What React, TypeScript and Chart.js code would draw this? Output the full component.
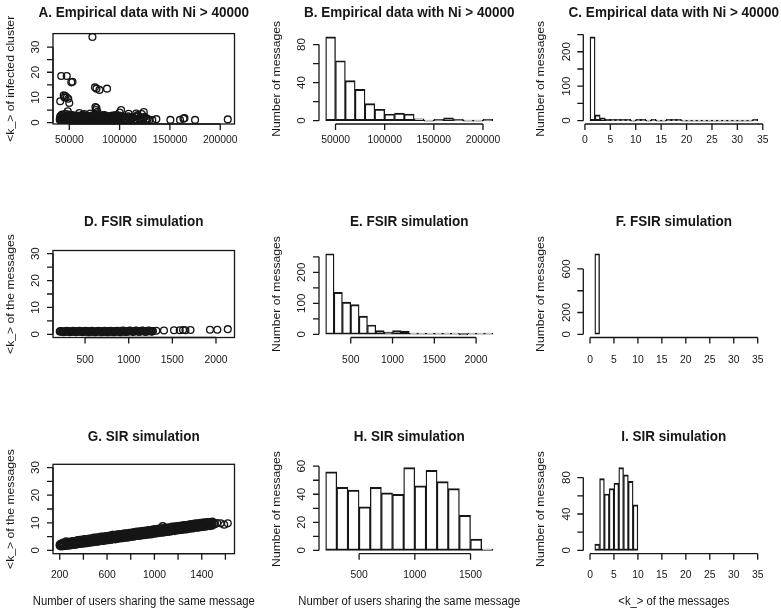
import React, { useEffect, useRef } from "react";
import { Chart, registerables } from "chart.js";

Chart.register(...registerables);

const W = 781;
const H = 610;
const FONT = '"Liberation Sans", Arial, Helvetica, sans-serif';
const INK = "#161616";

// ---------------- Panel A: empirical scatter ----------------
const aPoints: [number, number][] = [
  [40500, 1.2], [41200, 2.6], [42000, 1.0], [42800, 3.2], [43500, 1.8], [44100, 0.9], [44900, 2.4], [45600, 1.4],
  [46300, 3.5], [47000, 1.1], [47800, 2.0], [48500, 0.9], [49200, 2.8], [50000, 1.5], [50700, 1.0], [51500, 2.3],
  [52300, 1.2], [53000, 3.0], [53800, 1.7], [54600, 1.0], [55400, 2.5], [56200, 1.3], [57000, 2.0], [57900, 0.9],
  [58700, 2.7], [59500, 1.4], [60300, 1.0], [61200, 2.2], [62000, 1.2], [62900, 3.1], [63700, 1.6], [64600, 1.0],
  [65400, 2.4], [66300, 1.3], [67100, 1.9], [68000, 0.9], [68900, 2.6], [69700, 1.5], [70600, 1.0], [71500, 2.1],
  [72300, 1.3], [73200, 2.9], [74100, 1.1], [75000, 2.0], [75800, 1.0], [76700, 3.2], [77600, 1.4], [78500, 2.4],
  [79400, 1.0], [80200, 1.8], [81100, 1.2], [82000, 2.7], [82900, 1.0], [83800, 2.0], [84700, 1.3], [85600, 2.6],
  [86500, 1.0], [87400, 1.7], [88300, 1.2], [89200, 2.3], [90100, 1.0], [91000, 1.6], [92000, 2.1], [93000, 1.1],
  [94000, 1.5], [95000, 2.6], [96000, 1.0], [97000, 1.8], [98000, 1.2], [99000, 2.2], [100000, 1.0], [101500, 1.6],
  [103000, 2.4], [104000, 1.1], [105500, 1.8], [107000, 1.0], [108500, 2.5], [110000, 1.3], [111500, 0.9],
  [113000, 1.9], [114500, 1.2], [116000, 2.4], [117500, 1.0], [119000, 1.6], [120500, 2.0], [122000, 1.1],
  [123500, 1.5], [125000, 2.3], [126500, 1.0], [128000, 1.4], [129500, 1.0],
  [40900, 2.0], [41700, 0.8], [42400, 1.6], [43100, 2.2], [43900, 1.1], [44600, 3.0], [45300, 0.8], [46000, 2.0],
  [46700, 1.3], [47400, 2.8], [48200, 1.5], [48900, 0.8], [49600, 2.0], [50400, 3.2], [51100, 1.3], [51900, 0.8],
  [52700, 2.0], [53400, 1.0], [54200, 2.6], [55000, 1.2], [55800, 0.8], [56600, 2.8], [57400, 1.5], [58300, 1.9],
  [59100, 0.8], [59900, 2.4], [60700, 1.6], [61600, 0.8], [62400, 2.0], [63300, 1.0], [64100, 2.6], [65000, 1.8],
  [65800, 0.8], [66700, 2.8], [67500, 1.4], [68400, 2.0], [69300, 0.8], [70200, 2.4], [71000, 1.6], [71900, 0.8],
  [72800, 2.0], [73700, 1.6], [74600, 2.6], [75400, 1.5], [76300, 0.8], [77200, 2.1], [78100, 1.0], [79000, 3.0],
  [79800, 1.4], [80700, 2.2], [81600, 0.8], [82500, 1.6], [83400, 2.9], [84300, 0.8], [85200, 1.8], [86100, 2.2],
  [87000, 0.8], [87900, 2.6], [88800, 1.6], [89700, 2.0], [90600, 0.8], [91500, 2.6], [92500, 1.4], [93500, 2.0],
  [94500, 0.8], [95500, 1.7], [96500, 2.4], [97500, 0.8], [98500, 1.6], [99500, 2.8], [102000, 2.0], [103500, 0.9],
  [106000, 1.4], [109000, 1.9], [112000, 2.2], [115000, 1.0], [118500, 2.6], [121000, 1.3], [124000, 1.9], [127000, 1.6],
  [73000, 34], [42000, 18.5], [47500, 18.5], [52000, 16], [53200, 16.2], [44500, 10.8], [46000, 10.5],
  [45200, 10], [47500, 10], [49000, 9.5], [41000, 8.5], [50000, 7.8], [75500, 14], [77000, 13.5], [80000, 13],
  [87500, 13.5], [76000, 6.2], [77000, 5.8], [76500, 5], [78000, 4.3], [48500, 4.5], [101500, 5], [100000, 4],
  [109000, 3.5], [116500, 3.6], [118000, 3], [124000, 4.2], [122000, 3.4], [60000, 3.8], [65000, 3.4],
  [93000, 2.8], [96000, 3], [85000, 3], [71000, 3.6],
  [132500, 1], [136500, 1.4], [150500, 1.1], [160000, 1.1], [163500, 1.6], [164500, 1.8], [175000, 1.1], [207500, 1.3],
];
const aXTicks = [50000, 100000, 150000, 200000];
const kYTicks = [0, 5, 10, 15, 20, 25, 30];
const kYLabels = [0, 10, 20, 30];

// ---------------- Panel B: empirical size histogram ----------------
const bBreaks = [40000, 50000, 60000, 70000, 80000, 90000, 100000, 110000, 120000, 130000, 140000, 150000, 160000, 170000, 180000, 190000, 200000, 210000];
const bCounts = [88, 63, 42, 33, 18, 12, 7, 8, 7, 2, 0, 1, 3, 1, 0, 0, 1];
const bYTicks = [0, 20, 40, 60, 80];
const bYLabels = [0, 40, 80];

// ---------------- Panel C: empirical <k> histogram ----------------
const cBreaks = [1, 2, 3, 4, 5, 6, 7, 8, 9, 10, 11, 12, 13, 14, 15, 16, 17, 18, 19, 20, 21, 22, 23, 24, 25, 26, 27, 28, 29, 30, 31, 32, 33, 34];
const cCounts = [243, 17, 8, 4, 3, 1, 1, 1, 0, 1, 1, 0, 1, 0, 0, 1, 1, 1, 0, 0, 0, 0, 0, 0, 0, 0, 0, 0, 0, 0, 0, 0, 1];
const kXTicks = [0, 5, 10, 15, 20, 25, 30, 35];
const cYTicks = [0, 50, 100, 150, 200, 250];
const cYLabels = [0, 100, 200];

// ---------------- Panel D: FSIR scatter ----------------
const dPoints: [number, number][] = [
  [210, 1.0], [228, 1.1], [246, 0.9], [264, 1.0], [282, 1.2], [300, 1.0], [318, 0.9], [336, 1.1], [354, 1.0],
  [372, 1.2], [390, 0.9], [408, 1.0], [426, 1.1], [444, 1.0], [462, 1.2], [480, 0.9], [498, 1.0], [516, 1.1],
  [534, 1.0], [552, 0.9], [570, 1.2], [588, 1.0], [606, 1.1], [624, 0.9], [642, 1.0], [660, 1.2], [678, 1.0],
  [696, 1.1], [714, 0.9], [732, 1.0], [750, 1.2], [768, 1.0], [786, 1.1], [804, 1.0], [822, 0.9], [840, 1.2],
  [858, 1.0], [876, 1.1], [894, 1.0], [912, 1.3], [930, 1.0], [948, 1.1], [966, 0.9], [984, 1.2], [1002, 1.0],
  [1020, 1.3], [1038, 1.1], [1056, 1.0], [1074, 1.2], [1092, 1.3], [1110, 1.0], [1128, 1.2], [1146, 1.1],
  [1164, 1.3], [1182, 1.0], [1200, 1.2], [1218, 1.1], [1236, 1.3], [1254, 1.2], [1272, 1.1],
  [219, 1.2], [255, 0.8], [291, 1.3], [327, 0.8], [363, 1.3], [399, 0.8], [435, 1.3], [471, 0.8], [507, 1.3],
  [543, 0.8], [579, 1.3], [615, 0.8], [651, 1.3], [687, 0.8], [723, 1.3], [759, 0.8], [795, 1.3], [831, 0.8],
  [867, 1.3], [903, 0.8], [939, 1.4], [975, 0.9], [1011, 1.4], [1047, 0.9], [1083, 1.4], [1119, 0.9], [1155, 1.4],
  [1191, 0.9], [1227, 1.4], [1263, 1.0],
  [237, 1.05], [273, 0.95], [309, 1.1], [345, 0.95], [381, 1.05], [417, 1.15], [453, 0.95], [489, 1.1], [525, 1.0],
  [561, 1.1], [597, 0.95], [633, 1.05], [669, 1.1], [705, 1.0], [741, 1.05], [777, 1.15], [813, 0.95], [849, 1.05],
  [885, 1.1], [921, 1.15], [957, 1.0], [993, 1.1], [1029, 1.2], [1065, 1.05], [1101, 1.15], [1137, 1.1],
  [1173, 1.2], [1209, 1.05], [1245, 1.15],
  [1277, 1.2], [1316, 1.3], [1404, 1.4], [1519, 1.5], [1585, 1.5], [1623, 1.6], [1650, 1.5], [1708, 1.6],
  [1931, 1.7], [2015, 1.7], [2135, 1.9],
];
const sizeXTicks = [500, 1000, 1500, 2000];

// ---------------- Panel E: FSIR size histogram ----------------
const eBreaks = [200, 300, 400, 500, 600, 700, 800, 900, 1000, 1100, 1200, 1300, 1400, 1500, 1600, 1700, 1800, 1900, 2000, 2100, 2200];
const eCounts = [260, 135, 104, 96, 59, 30, 12, 7, 12, 10, 4, 1, 1, 1, 3, 2, 0, 1, 1, 1];
const eYTicks = [0, 50, 100, 150, 200, 250];
const eYLabels = [0, 100, 200];

// ---------------- Panel F: FSIR <k> histogram ----------------
const fBreaks = [1, 2];
const fCounts = [740];
const fYTicks = [0, 200, 400, 600];
const fYLabels = [0, 200, 600];

// ---------------- Panel G: SIR scatter ----------------
const gPoints: [number, number][] = [
  [200, 1.7], [200, 2.1], [215, 2.2], [215, 1.8], [230, 1.6], [230, 2.3], [250, 2.0], [250, 2.5], [255, 3.3],
  [270, 2.0], [270, 2.6], [290, 2.5], [290, 2.1], [310, 2.3], [310, 2.9], [330, 2.7], [330, 2.2], [350, 2.4],
  [350, 3.0], [370, 3.1], [370, 2.6], [390, 2.7], [390, 3.4], [410, 3.3], [410, 2.9], [430, 2.8], [430, 3.6],
  [450, 3.4], [450, 3.0], [470, 3.8], [470, 3.2], [490, 3.3], [490, 4.0], [510, 3.9], [510, 3.5], [530, 4.2],
  [530, 3.6], [550, 3.7], [550, 4.4], [570, 4.3], [570, 3.9], [590, 4.0], [590, 4.7], [610, 4.6], [610, 4.1],
  [630, 4.9], [630, 4.2], [645, 5.6], [650, 4.4], [650, 5.0], [670, 5.1], [670, 4.6], [690, 4.7], [690, 5.4],
  [710, 5.3], [710, 4.8], [730, 4.9], [730, 5.6], [750, 5.5], [750, 5.1], [770, 5.2], [770, 5.8], [790, 5.8],
  [790, 5.3], [810, 5.4], [810, 6.0], [830, 6.1], [830, 5.5], [850, 5.7], [850, 6.3], [870, 6.2], [870, 5.8],
  [890, 5.9], [890, 6.6], [910, 6.5], [910, 6.0], [930, 6.1], [930, 6.8], [950, 6.7], [950, 6.2], [970, 6.3],
  [970, 7.0], [990, 6.9], [990, 6.4], [1010, 6.6], [1010, 7.2], [1030, 7.1], [1030, 6.7], [1050, 6.8], [1050, 7.5],
  [1070, 7.3], [1070, 8.8], [1090, 7.0], [1090, 7.7], [1110, 7.6], [1110, 7.1], [1130, 7.3], [1130, 8.0],
  [1150, 7.9], [1150, 7.4], [1170, 7.5], [1170, 8.2], [1190, 8.1], [1190, 7.7], [1210, 7.8], [1210, 8.5],
  [1230, 8.4], [1230, 7.9], [1250, 8.0], [1250, 8.7], [1270, 8.6], [1270, 8.2], [1290, 8.3], [1290, 9.0],
  [1310, 8.8], [1310, 8.4], [1330, 8.5], [1330, 9.3], [1350, 9.0], [1350, 8.6], [1370, 8.7], [1370, 9.5],
  [1390, 9.2], [1390, 8.8], [1410, 8.9], [1410, 9.7], [1430, 9.4], [1430, 9.0], [1450, 9.1], [1450, 9.8],
  [1470, 9.6], [1470, 9.3], [1490, 9.4], [1490, 10.0], [1510, 9.7], [1510, 9.5], [1530, 9.9], [1560, 9.8],
  [1590, 9.3], [1620, 9.8],
  [210, 2.5], [230, 2.8], [250, 2.9], [270, 3.0], [290, 3.2], [310, 3.4], [330, 3.4], [350, 3.7], [370, 3.8],
  [390, 3.9], [410, 4.1], [430, 4.1], [450, 4.3], [470, 4.4], [490, 4.6], [510, 4.6], [530, 4.8], [550, 5.0],
  [570, 5.0], [590, 5.2], [610, 5.3], [630, 5.4], [650, 5.6], [670, 5.6], [690, 5.8], [710, 5.9], [730, 6.0],
  [750, 6.2], [770, 6.2], [790, 6.4], [810, 6.5], [830, 6.6], [850, 6.8], [870, 6.8], [890, 7.0], [910, 7.1],
  [930, 7.2], [950, 7.4], [970, 7.4], [990, 7.6], [1010, 7.7], [1030, 7.8], [1050, 8.0], [1070, 8.0], [1090, 8.2],
  [1110, 8.3], [1130, 8.4], [1150, 8.6], [1170, 8.6], [1190, 8.8], [1210, 8.9], [1230, 9.0], [1250, 9.2],
  [1270, 9.2], [1290, 9.4], [1310, 9.5], [1330, 9.6], [1350, 9.8], [1370, 9.8], [1390, 10.0], [1410, 10.1],
  [1430, 10.2], [1450, 10.3], [1470, 10.3], [1490, 10.4],
  [210, 1.4], [230, 1.5], [250, 1.6], [270, 1.7], [290, 1.8], [310, 2.0], [330, 2.0], [350, 2.2], [370, 2.3],
  [390, 2.4], [410, 2.5], [430, 2.6], [450, 2.8], [470, 2.9], [490, 3.0], [510, 3.1], [530, 3.2], [550, 3.4],
  [570, 3.4], [590, 3.6], [610, 3.7], [630, 3.8], [650, 4.0], [670, 4.0], [690, 4.2], [710, 4.3], [730, 4.4],
  [750, 4.6], [770, 4.6], [790, 4.8], [810, 4.9], [830, 5.0], [850, 5.2], [870, 5.2], [890, 5.4], [910, 5.5],
  [930, 5.6], [950, 5.8], [970, 5.8], [990, 6.0], [1010, 6.1], [1030, 6.2], [1050, 6.4], [1070, 6.4], [1090, 6.6],
  [1110, 6.7], [1130, 6.8], [1150, 7.0], [1170, 7.0], [1190, 7.2], [1210, 7.3], [1230, 7.4], [1250, 7.6],
  [1270, 7.6], [1290, 7.8], [1310, 7.9], [1330, 8.0], [1350, 8.2], [1370, 8.2], [1390, 8.4], [1410, 8.5],
  [1430, 8.6], [1450, 8.8], [1470, 8.8], [1490, 9.0],
];
const gXTicks = [200, 400, 600, 800, 1000, 1200, 1400, 1600];
const gXLabels = [200, 600, 1000, 1400];

// ---------------- Panel H: SIR size histogram ----------------
const hBreaks = [200, 300, 400, 500, 600, 700, 800, 900, 1000, 1100, 1200, 1300, 1400, 1500, 1600, 1700];
const hCounts = [56, 45, 43, 31, 45, 41, 40, 59, 46, 57, 49, 44, 25, 8, 1];
const hXTicks = [500, 1000, 1500];
const hYTicks = [0, 10, 20, 30, 40, 50, 60];
const hYLabels = [0, 20, 40, 60];

// ---------------- Panel I: SIR <k> histogram ----------------
const iBreaks = [1, 2, 3, 4, 5, 6, 7, 8, 9, 10];
const iCounts = [7, 79, 62, 68, 74, 91, 83, 76, 50];
const iYTicks = [0, 20, 40, 60, 80];
const iYLabels = [0, 40, 80];

const kRange: [number, number] = [0, 35];
const kYRange: [number, number] = [0, 30];

// ---------------- layout (R plot regions) ----------------
const COLS: [number, number][] = [[53, 234.5], [319, 499.5], [583.3, 764.4]];
const ROWS = [
  { top: 33.6, bottom: 124, titleY: 12.7, tickY: 139.5, xTitleY: 0 },
  { top: 250.5, bottom: 337.5, titleY: 221.7, tickY: 360, xTitleY: 0 },
  { top: 464.3, bottom: 553.7, titleY: 436.7, tickY: 575, xTitleY: 601.7 },
];

type Panel = {
  title: string;
  yTitle: string;
  xTitle?: string;
  col: number;
  row: number;
  points?: [number, number][];
  breaks?: number[];
  counts?: number[];
  xlim?: [number, number];
  ylim?: [number, number];
  xTicks: number[];
  xLabels: number[];
  yTicks: number[];
  yLabels: number[];
  box: boolean;
};

const EMP = "Empirical data with Ni > 40000";
const NUM = "Number of messages";
const KMSG = "<k_> of the messages";
const USERS = "Number of users sharing the same message";

const PANELS: Panel[] = [
  { title: "A. " + EMP, yTitle: "<k_> of infected cluster", col: 0, row: 0, points: aPoints, xTicks: aXTicks, xLabels: aXTicks, yTicks: kYTicks, yLabels: kYLabels, box: true },
  { title: "B. " + EMP, yTitle: NUM, col: 1, row: 0, breaks: bBreaks, counts: bCounts, xTicks: aXTicks, xLabels: aXTicks, yTicks: bYTicks, yLabels: bYLabels, box: false },
  { title: "C. " + EMP, yTitle: NUM, col: 2, row: 0, breaks: cBreaks, counts: cCounts, xTicks: kXTicks, xLabels: kXTicks, yTicks: cYTicks, yLabels: cYLabels, box: false },
  { title: "D. FSIR simulation", yTitle: KMSG, col: 0, row: 1, points: dPoints, ylim: kYRange, xTicks: sizeXTicks, xLabels: sizeXTicks, yTicks: kYTicks, yLabels: kYLabels, box: true },
  { title: "E. FSIR simulation", yTitle: NUM, col: 1, row: 1, breaks: eBreaks, counts: eCounts, xTicks: sizeXTicks, xLabels: sizeXTicks, yTicks: eYTicks, yLabels: eYLabels, box: false },
  { title: "F. FSIR simulation", yTitle: NUM, col: 2, row: 1, breaks: fBreaks, counts: fCounts, xlim: kRange, xTicks: kXTicks, xLabels: kXTicks, yTicks: fYTicks, yLabels: fYLabels, box: false },
  { title: "G. SIR simulation", yTitle: KMSG, xTitle: USERS, col: 0, row: 2, points: gPoints, ylim: kYRange, xTicks: gXTicks, xLabels: gXLabels, yTicks: kYTicks, yLabels: kYLabels, box: true },
  { title: "H. SIR simulation", yTitle: NUM, xTitle: USERS, col: 1, row: 2, breaks: hBreaks, counts: hCounts, xTicks: hXTicks, xLabels: hXTicks, yTicks: hYTicks, yLabels: hYLabels, box: false },
  { title: "I. SIR simulation", yTitle: NUM, xTitle: KMSG, col: 2, row: 2, breaks: iBreaks, counts: iCounts, xlim: kRange, xTicks: kXTicks, xLabels: kXTicks, yTicks: iYTicks, yLabels: iYLabels, box: false },
];

function ext(r: [number, number]): [number, number] {
  const d = (r[1] - r[0]) * 0.04;
  return [r[0] - d, r[1] + d];
}

function drawText(ctx: CanvasRenderingContext2D, s: string, x: number, y: number, size: number, bold: boolean, sx: number, rot: boolean) {
  ctx.save();
  ctx.translate(x, y);
  ctx.scale(sx, 1);
  if (rot) ctx.rotate(-Math.PI / 2);
  ctx.font = `${bold ? "bold " : ""}${size}px ${FONT}`;
  ctx.textAlign = "center";
  ctx.textBaseline = "middle";
  ctx.fillStyle = INK;
  ctx.fillText(s, 0, 0);
  ctx.restore();
}

function rPlotPlugin(p: Panel) {
  return {
    id: "rPlot",
    afterDraw(chart: any) {
      const ctx: CanvasRenderingContext2D = chart.ctx;
      const area = chart.chartArea;
      const xs = chart.scales.x;
      const ys = chart.scales.y;
      const row = ROWS[p.row];
      ctx.save();
      ctx.strokeStyle = INK;
      ctx.lineWidth = 1.3;
      if (p.box) ctx.strokeRect(area.left, area.top, area.right - area.left, area.bottom - area.top);
      const x0 = xs.getPixelForValue(p.xTicks[0]);
      const x1 = xs.getPixelForValue(p.xTicks[p.xTicks.length - 1]);
      ctx.beginPath();
      ctx.moveTo(x0, area.bottom);
      ctx.lineTo(x1, area.bottom);
      p.xTicks.forEach((v) => {
        const px = xs.getPixelForValue(v);
        ctx.moveTo(px, area.bottom);
        ctx.lineTo(px, area.bottom + 6);
      });
      const y0 = ys.getPixelForValue(p.yTicks[0]);
      const y1 = ys.getPixelForValue(p.yTicks[p.yTicks.length - 1]);
      ctx.moveTo(area.left, y0);
      ctx.lineTo(area.left, y1);
      p.yTicks.forEach((v) => {
        const py = ys.getPixelForValue(v);
        ctx.moveTo(area.left, py);
        ctx.lineTo(area.left - 6, py);
      });
      ctx.stroke();
      ctx.restore();
      p.xLabels.forEach((v) => drawText(ctx, String(v), xs.getPixelForValue(v), row.tickY, 11.5, false, 0.9, false));
      p.yLabels.forEach((v) => drawText(ctx, String(v), area.left - 16.5, ys.getPixelForValue(v), 11.5, false, 0.9, true));
      const cx = (area.left + area.right) / 2;
      const cy = (area.top + area.bottom) / 2;
      drawText(ctx, p.title, cx, row.titleY, 15, true, 0.9, false);
      drawText(ctx, p.yTitle, area.left - 42, cy, 12.2, false, 0.95, true);
      if (p.xTitle) drawText(ctx, p.xTitle, cx, row.xTitleY, 12, false, 0.94, false);
    },
  };
}

function buildConfig(p: Panel): any {
  const [L, R] = COLS[p.col];
  const row = ROWS[p.row];
  let xlim: [number, number];
  let ylim: [number, number];
  let dataset: any;
  if (p.points) {
    const xsv = p.points.map((d) => d[0]);
    const ysv = p.points.map((d) => d[1]);
    xlim = p.xlim ?? [Math.min(...xsv), Math.max(...xsv)];
    ylim = p.ylim ?? [Math.min(...ysv), Math.max(...ysv)];
    dataset = {
      type: "scatter",
      data: p.points.map(([x, y]) => ({ x, y })),
      pointStyle: "circle",
      pointRadius: 3.4,
      pointHoverRadius: 3.4,
      pointBorderWidth: 1.35,
      pointBorderColor: INK,
      pointBackgroundColor: "rgba(0,0,0,0)",
      showLine: false,
    };
  } else {
    const b = p.breaks!;
    const c = p.counts!;
    xlim = p.xlim ?? [b[0], b[b.length - 1]];
    ylim = p.ylim ?? [0, Math.max(...c)];
    dataset = {
      type: "bar",
      data: c.map((v, i) => ({ x: (b[i] + b[i + 1]) / 2, y: v })),
      backgroundColor: "rgba(0,0,0,0)",
      borderColor: INK,
      borderWidth: { top: 1.3, bottom: 1.3, left: 0.7, right: 0.7 },
      borderSkipped: false,
      minBarLength: 1.2,
      barPercentage: 1,
      categoryPercentage: 1,
    };
  }
  const xr = ext(xlim);
  const yr = ext(ylim);
  const xScale: any = { type: "linear", display: false, min: xr[0], max: xr[1], offset: false };
  if (p.breaks) {
    const b = p.breaks;
    xScale.afterBuildTicks = (s: any) => {
      s.ticks = b.map((v) => ({ value: v }));
    };
  }
  return {
    type: p.points ? "scatter" : "bar",
    data: { datasets: [dataset] },
    options: {
      animation: false,
      responsive: false,
      devicePixelRatio: 1,
      events: [],
      layout: { padding: { left: L, right: W - R, top: row.top, bottom: H - row.bottom } },
      scales: {
        x: xScale,
        y: { type: "linear", display: false, min: yr[0], max: yr[1] },
      },
      plugins: { legend: { display: false }, tooltip: { enabled: false }, title: { display: false } },
    },
    plugins: [rPlotPlugin(p)],
  };
}

function PanelChart({ spec }: { spec: Panel }) {
  const ref = useRef<HTMLCanvasElement>(null);
  useEffect(() => {
    if (!ref.current) return;
    const chart = new Chart(ref.current, buildConfig(spec));
    return () => chart.destroy();
  }, [spec]);
  return (
    <canvas
      ref={ref}
      width={W}
      height={H}
      style={{ position: "absolute", left: 0, top: 0, width: W, height: H }}
    />
  );
}

export default function App() {
  return (
    <div style={{ position: "absolute", left: 0, top: 0, width: W, height: H, background: "#ffffff", overflow: "hidden" }}>
      {PANELS.map((p, i) => (
        <PanelChart key={i} spec={p} />
      ))}
    </div>
  );
}
